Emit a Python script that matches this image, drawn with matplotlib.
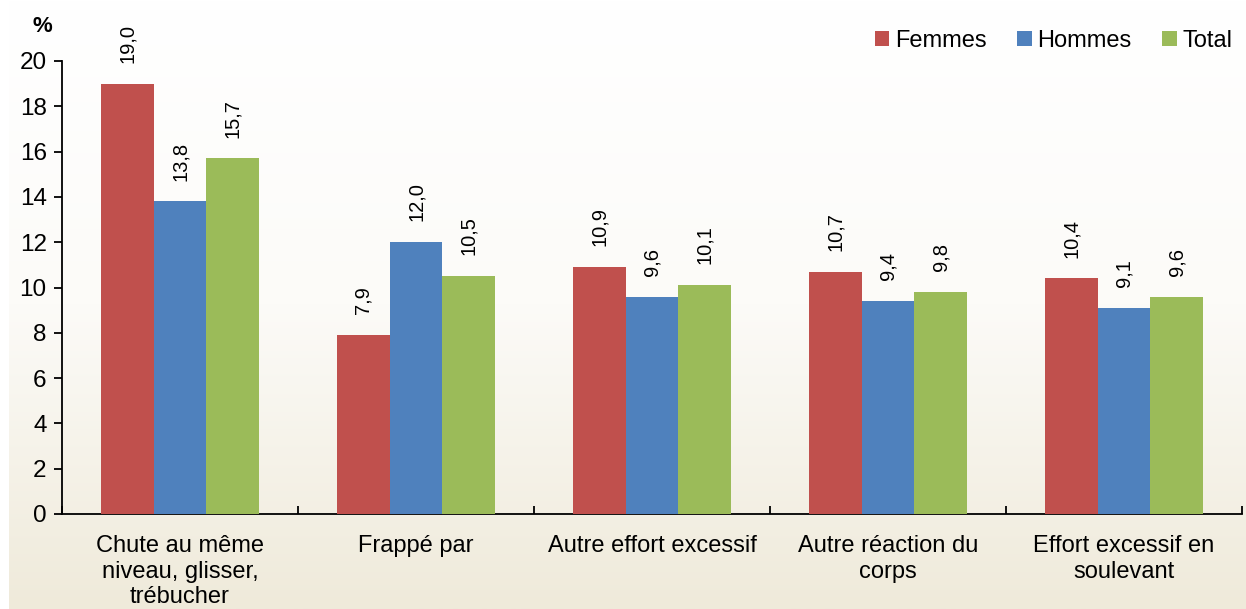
import matplotlib
matplotlib.use("Agg")
import matplotlib.pyplot as plt
import numpy as np
from matplotlib.colors import LinearSegmentedColormap

plt.rcParams['font.family'] = ['Liberation Sans', 'DejaVu Sans']

categories = ["Chute au même\nniveau, glisser,\ntrébucher", "Frappé par",
              "Autre effort excessif", "Autre réaction du\ncorps",
              "Effort excessif en\nsoulevant"]
series_names = ["Femmes", "Hommes", "Total"]
femmes = [19.0, 7.9, 10.9, 10.7, 10.4]
hommes = [13.8, 12.0, 9.6, 9.4, 9.1]
total = [15.7, 10.5, 10.1, 9.8, 9.6]
colors = ["#C0504D", "#4F81BD", "#9BBB59"]
yticks = [0, 2, 4, 6, 8, 10, 12, 14, 16, 18, 20]

fig = plt.figure(figsize=(12.46, 6.09), dpi=100)
fig.patch.set_facecolor("white")

# gradient background
bg = fig.add_axes([9/1246, 0, 1 - 9/1246, 1], zorder=-10)
cmap = LinearSegmentedColormap.from_list("bg", ["#FFFFFF", "#FCFBF8", "#EFEADA"])
grad = np.linspace(0, 1, 256).reshape(-1, 1)
bg.imshow(grad, aspect="auto", cmap=cmap, extent=[0, 1, 1, 0])
bg.set_axis_off()

ax = fig.add_axes([62/1246, 1 - 514/609, (1242 - 62)/1246, (514 - 61)/609])
ax.patch.set_alpha(0)

x = np.arange(len(categories))
w = 0.223
for i, (vals, name, c) in enumerate(zip([femmes, hommes, total], series_names, colors)):
    pos = x + (i - 1) * w
    ax.bar(pos, vals, width=w, color=c, label=name, zorder=3)
    for px, v in zip(pos, vals):
        ax.annotate(f"{v:.1f}".replace(".", ","), (px, v), xytext=(0, 15),
                    textcoords="offset points", rotation=90, ha="center",
                    va="bottom", fontsize=14.5)

ax.set_xlim(-0.5, len(categories) - 0.5)
ax.set_ylim(0, 20)
ax.set_yticks(yticks)
ax.set_yticklabels([str(t) for t in yticks], fontsize=17.5)
ax.set_xticks(np.arange(len(categories) + 1) - 0.5)
ax.set_xticklabels([])
ax.set_xticks(x, minor=True)
ax.set_xticklabels(categories, minor=True, fontsize=17, linespacing=1.22)
ax.tick_params(axis="x", which="minor", length=0, pad=15)
ax.tick_params(axis="x", which="major", length=6, width=1.3, direction="in")
ax.tick_params(axis="y", length=6, width=1.3, direction="out", pad=5)
for s in ["top", "right"]:
    ax.spines[s].set_visible(False)
for s in ["left", "bottom"]:
    ax.spines[s].set_linewidth(1.3)

fig.text(42/1246, 1 - 26/609, "%", fontsize=16, fontweight="bold", ha="center", va="center")

ax.legend(loc="upper right", bbox_to_anchor=(1.0, 1.09), ncol=3, frameon=False,
          fontsize=17, handlelength=0.6, handleheight=0.6, handletextpad=0.25,
          columnspacing=1.3, borderpad=0.2, borderaxespad=0.2)

fig.savefig("out.png", dpi=100)
